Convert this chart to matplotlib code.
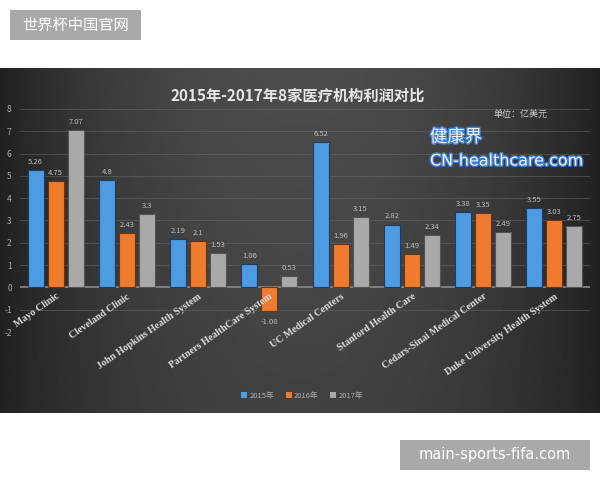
import numpy as np
import matplotlib
matplotlib.use("Agg")
import matplotlib.pyplot as plt
import matplotlib.patheffects as pe
from matplotlib.patches import Rectangle, Patch

plt.rcParams['font.family'] = ['Noto Sans CJK SC', 'DejaVu Sans']

categories = ["Mayo Clinic", "Cleveland Clinic", "John Hopkins Health System",
              "Partners HealthCare System", "UC Medical Centers", "Stanford Health Care",
              "Cedars-Sinai Medical Center", "Duke University Health System"]
series_names = ["2015年", "2016年", "2017年"]
v2015 = [5.26, 4.8, 2.19, 1.06, 6.52, 2.82, 3.38, 3.55]
v2016 = [4.75, 2.43, 2.1, -1.08, 1.96, 1.49, 3.35, 3.03]
v2017 = [7.07, 3.3, 1.53, 0.53, 3.15, 2.34, 2.49, 2.75]
yticks = [-2, -1, 0, 1, 2, 3, 4, 5, 6, 7, 8]

colors = ["#4d9be0", "#ef7b2f", "#a9a9a9"]
edges = ["#1d3d63", "#6b3510", "#555555"]

W, H = 600, 480
fig = plt.figure(figsize=(6, 4.8), dpi=100)
fig.patch.set_facecolor("white")

# dark gradient panel
top, bot = 68, 413
bg = fig.add_axes([0, (H - bot) / H, 1, (bot - top) / H])
xx = np.linspace(-1, 1, 400)
yy = np.linspace(0, 1, 200)
X, Y = np.meshgrid(xx, yy)
val = 0.13 + 0.17 * (1 - np.abs(X) ** 2.2) * (0.75 + 0.25 * Y)
bg.imshow(val, cmap="gray", vmin=0, vmax=1, aspect="auto", origin="lower",
          extent=[0, 1, 0, 1], interpolation="bilinear")
bg.set_axis_off()

# main axes
y_top_px, y_bot_px = 109, 332
x_l, x_r = 20, 590
ax = fig.add_axes([x_l / W, (H - y_bot_px) / H, (x_r - x_l) / W, (y_bot_px - y_top_px) / H])
ax.patch.set_alpha(0)
ax.set_xlim(-0.5, len(categories) - 0.5)
ax.set_ylim(-2, 8)
ax.set_yticks(yticks)
ax.set_yticklabels([str(t) for t in yticks], color="#a8a8a8", fontsize=6)
ax.tick_params(axis="y", length=0, pad=6)
ax.set_xticks([])
for s in ax.spines.values():
    s.set_visible(False)
for t in yticks:
    if t != 0:
        ax.axhline(t, color="#6a6a6a", lw=0.6, alpha=0.6, zorder=0)
ax.axhline(0, color="#8a8a8a", lw=1.2, zorder=1)

x = np.arange(len(categories))
bw = 0.225
step = 0.28
for k, (vals, c, ec) in enumerate(zip([v2015, v2016, v2017], colors, edges)):
    pos = x + (k - 1) * step
    ax.bar(pos, vals, width=bw, color=c, edgecolor=ec, linewidth=0.8, zorder=2)
    for px, v in zip(pos, vals):
        lab = f"{v:g}"
        if v >= 0:
            ax.text(px, v + 0.18, lab, ha="center", va="bottom", fontsize=5.5,
                    color="#bdbdbd")
        else:
            ax.text(px, v - 0.3, lab, ha="center", va="top", fontsize=5.5,
                    color="#bdbdbd")

for i, cat in enumerate(categories):
    ax.text(i, -0.2, cat, ha="right", va="top", rotation=35, rotation_mode="anchor",
            fontsize=7.2, color="#dcdcdc", family="Liberation Serif", fontweight="bold")

# title and unit
fig.text(298 / W, 1 - 96 / H, "2015年-2017年8家医疗机构利润对比", ha="center", va="center",
         fontsize=11, color="#e6e6e6", fontweight="bold")
fig.text(520 / W, 1 - 114 / H, "单位：亿美元", ha="center", va="center",
         fontsize=6.5, color="#d0d0d0")

# watermark
glow = [pe.withStroke(linewidth=2, foreground="#3f7fd6")]
fig.text(430 / W, 1 - 137 / H, "健康界", ha="left", va="center", fontsize=12.5,
         color="#f0f6ff", path_effects=glow)
fig.text(430 / W, 1 - 161 / H, "CN-healthcare.com", ha="left", va="center",
         fontsize=11.5, color="#f0f6ff", path_effects=glow, family="DejaVu Sans")

# legend
handles = [Patch(facecolor=c, edgecolor="none") for c in colors]
leg = fig.legend(handles, series_names, loc="center", bbox_to_anchor=(302 / W, 1 - 396 / H),
                 ncol=3, frameon=False, fontsize=5.5, handlelength=0.8, handleheight=0.8,
                 handletextpad=0.3, columnspacing=1.5, labelcolor="#b0b0b0")

# overlay labels
fig.patches.append(Rectangle((10 / W, 1 - 40 / H), 131 / W, 30 / H, transform=fig.transFigure,
                             facecolor="#a9a9a9", edgecolor="none", zorder=5))
fig.text(75.5 / W, 1 - 25 / H, "世界杯中国官网", ha="center", va="center", fontsize=11,
         color="white", zorder=6)
fig.patches.append(Rectangle((400 / W, 1 - 470 / H), 190 / W, 30 / H, transform=fig.transFigure,
                             facecolor="#a9a9a9", edgecolor="none", zorder=5))
fig.text(495 / W, 1 - 455 / H, "main-sports-fifa.com", ha="center", va="center", fontsize=10.5,
         color="white", zorder=6, family="DejaVu Sans")

fig.savefig("out.png", dpi=100, facecolor="white")
